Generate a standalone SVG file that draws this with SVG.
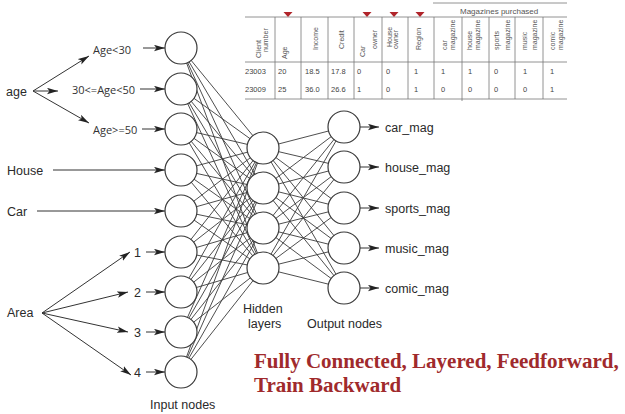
<svg xmlns="http://www.w3.org/2000/svg" width="625" height="414" viewBox="0 0 625 414">
<defs>
<marker id="ah" markerUnits="userSpaceOnUse" markerWidth="11" markerHeight="7" refX="11" refY="3.5" orient="auto">
<path d="M0,0.3 L11,3.5 L0,6.7 L2.5,3.5 z" fill="#222"/>
</marker>
<style>
.node{fill:#fff;stroke:#3a3a3a;stroke-width:1.2}
.conn line{stroke:#3a3a3a;stroke-width:0.9}
.arr{stroke:#333;stroke-width:1;fill:none;marker-end:url(#ah)}
.lbl{font-family:"Liberation Sans",Arial,sans-serif;font-size:12.5px;fill:#2a2a2a}
.age{font-family:"Open Sans","Liberation Sans",sans-serif;font-size:11px;fill:#333}
.th{font-family:"Liberation Sans",Arial,sans-serif;font-size:7px;fill:#555}
.td{font-family:"Liberation Sans",Arial,sans-serif;font-size:7.5px;fill:#444}
.tl{stroke:#777;stroke-width:0.8}
.tri{fill:#b0242a}
.title{font-family:"Liberation Serif","Times New Roman",serif;font-weight:bold;font-size:21px;fill:#a02a2c}
</style>
</defs>
<rect width="625" height="414" fill="#fff"/>

<!-- table -->
<g id="table">
<line class="tl" x1="433" y1="3" x2="567" y2="3"/>
<text class="th" x="460" y="14" style="font-size:8px">Magazines purchased</text>
<line class="tl" x1="245" y1="17" x2="567" y2="17"/>
<line class="tl" x1="245" y1="62" x2="567" y2="62"/>
<line class="tl" x1="245" y1="99" x2="567" y2="99"/>
<g class="tl">
<line x1="275" y1="17" x2="275" y2="99"/><line x1="301" y1="17" x2="301" y2="99"/>
<line x1="328" y1="17" x2="328" y2="99"/><line x1="354" y1="17" x2="354" y2="99"/>
<line x1="382" y1="17" x2="382" y2="99"/><line x1="408" y1="17" x2="408" y2="99"/>
<line x1="434" y1="17" x2="434" y2="99"/><line x1="462" y1="17" x2="462" y2="101"/>
<line x1="489" y1="17" x2="489" y2="99"/><line x1="515" y1="17" x2="515" y2="99"/>
<line x1="543" y1="17" x2="543" y2="99"/>
</g>
<polygon class="tri" points="283.5,12 292.5,12 288,17"/>
<polygon class="tri" points="362.5,12 371.5,12 367,17"/>
<polygon class="tri" points="389.5,12 398.5,12 394,17"/>
<polygon class="tri" points="415.5,12 424.5,12 420,17"/>
<g class="th">
<text transform="translate(261,58) rotate(-90)">Client</text>
<text transform="translate(268,52) rotate(-90)">number</text>
<text transform="translate(287,59) rotate(-90)">Age</text>
<text transform="translate(318,50) rotate(-90)">Income</text>
<text transform="translate(344,49) rotate(-90)">Credit</text>
<text transform="translate(365,57) rotate(-90)">Car</text>
<text transform="translate(377,49) rotate(-90)">owner</text>
<text transform="translate(392,47) rotate(-90)">House</text>
<text transform="translate(398,49) rotate(-90)">owner</text>
<text transform="translate(421,50) rotate(-90)">Region</text>
<text transform="translate(447,50) rotate(-90)">car</text>
<text transform="translate(455,50) rotate(-90)">magazine</text>
<text transform="translate(472,50) rotate(-90)">house</text>
<text transform="translate(480,50) rotate(-90)">magazine</text>
<text transform="translate(499,50) rotate(-90)">sports</text>
<text transform="translate(510,50) rotate(-90)">magazine</text>
<text transform="translate(527,50) rotate(-90)">music</text>
<text transform="translate(537,50) rotate(-90)">magazine</text>
<text transform="translate(555,50) rotate(-90)">comic</text>
<text transform="translate(563,50) rotate(-90)">magazine</text>
</g>
<g class="td">
<text x="245" y="74">23003</text><text x="278" y="74">20</text><text x="305" y="74">18.5</text><text x="331" y="74">17.8</text>
<text x="357" y="74">0</text><text x="386" y="74">0</text><text x="414" y="74">1</text><text x="441" y="74">1</text>
<text x="468" y="74">1</text><text x="494" y="74">0</text><text x="523" y="74">1</text><text x="550" y="74">1</text>
<text x="245" y="92">23009</text><text x="278" y="92">25</text><text x="305" y="92">36.0</text><text x="331" y="92">26.6</text>
<text x="357" y="92">1</text><text x="386" y="92">0</text><text x="414" y="92">1</text><text x="441" y="92">0</text>
<text x="468" y="92">0</text><text x="494" y="92">0</text><text x="523" y="92">0</text><text x="550" y="92">1</text>
</g>
</g>

<!-- connectors -->
<g id="connectors">
<g class="conn">
<line x1="181" y1="48" x2="263" y2="148"/><line x1="181" y1="48" x2="263" y2="188"/><line x1="181" y1="48" x2="263" y2="228"/><line x1="181" y1="48" x2="263" y2="268"/>
<line x1="181" y1="89" x2="263" y2="148"/><line x1="181" y1="89" x2="263" y2="188"/><line x1="181" y1="89" x2="263" y2="228"/><line x1="181" y1="89" x2="263" y2="268"/>
<line x1="181" y1="129" x2="263" y2="148"/><line x1="181" y1="129" x2="263" y2="188"/><line x1="181" y1="129" x2="263" y2="228"/><line x1="181" y1="129" x2="263" y2="268"/>
<line x1="181" y1="170" x2="263" y2="148"/><line x1="181" y1="170" x2="263" y2="188"/><line x1="181" y1="170" x2="263" y2="228"/><line x1="181" y1="170" x2="263" y2="268"/>
<line x1="181" y1="211" x2="263" y2="148"/><line x1="181" y1="211" x2="263" y2="188"/><line x1="181" y1="211" x2="263" y2="228"/><line x1="181" y1="211" x2="263" y2="268"/>
<line x1="181" y1="252" x2="263" y2="148"/><line x1="181" y1="252" x2="263" y2="188"/><line x1="181" y1="252" x2="263" y2="228"/><line x1="181" y1="252" x2="263" y2="268"/>
<line x1="181" y1="292" x2="263" y2="148"/><line x1="181" y1="292" x2="263" y2="188"/><line x1="181" y1="292" x2="263" y2="228"/><line x1="181" y1="292" x2="263" y2="268"/>
<line x1="181" y1="332" x2="263" y2="148"/><line x1="181" y1="332" x2="263" y2="188"/><line x1="181" y1="332" x2="263" y2="228"/><line x1="181" y1="332" x2="263" y2="268"/>
<line x1="181" y1="372" x2="263" y2="148"/><line x1="181" y1="372" x2="263" y2="188"/><line x1="181" y1="372" x2="263" y2="228"/><line x1="181" y1="372" x2="263" y2="268"/>
<line x1="263" y1="148" x2="344" y2="127"/><line x1="263" y1="148" x2="344" y2="167"/><line x1="263" y1="148" x2="344" y2="208"/><line x1="263" y1="148" x2="344" y2="248"/><line x1="263" y1="148" x2="344" y2="288"/>
<line x1="263" y1="188" x2="344" y2="127"/><line x1="263" y1="188" x2="344" y2="167"/><line x1="263" y1="188" x2="344" y2="208"/><line x1="263" y1="188" x2="344" y2="248"/><line x1="263" y1="188" x2="344" y2="288"/>
<line x1="263" y1="228" x2="344" y2="127"/><line x1="263" y1="228" x2="344" y2="167"/><line x1="263" y1="228" x2="344" y2="208"/><line x1="263" y1="228" x2="344" y2="248"/><line x1="263" y1="228" x2="344" y2="288"/>
<line x1="263" y1="268" x2="344" y2="127"/><line x1="263" y1="268" x2="344" y2="167"/><line x1="263" y1="268" x2="344" y2="208"/><line x1="263" y1="268" x2="344" y2="248"/><line x1="263" y1="268" x2="344" y2="288"/>
</g>
<!-- input arrows -->
<line class="arr" x1="33" y1="91" x2="89" y2="56"/>
<line class="arr" x1="33" y1="91" x2="58" y2="91"/>
<line class="arr" x1="33" y1="91" x2="89" y2="123"/>
<line class="arr" x1="143" y1="48" x2="165" y2="48"/>
<line class="arr" x1="140" y1="89" x2="165" y2="89"/>
<line class="arr" x1="142" y1="129" x2="165" y2="129"/>
<line class="arr" x1="53" y1="170" x2="165" y2="170"/>
<line class="arr" x1="37" y1="211" x2="165" y2="211"/>
<line class="arr" x1="42" y1="313" x2="130" y2="252"/>
<line class="arr" x1="42" y1="313" x2="128" y2="292"/>
<line class="arr" x1="42" y1="313" x2="128" y2="332"/>
<line class="arr" x1="42" y1="313" x2="131" y2="375"/>
<line class="arr" x1="146" y1="252" x2="165" y2="252"/>
<line class="arr" x1="146" y1="292" x2="165" y2="292"/>
<line class="arr" x1="146" y1="332" x2="165" y2="332"/>
<line class="arr" x1="146" y1="372" x2="165" y2="372"/>
<!-- output arrows -->
<line class="arr" x1="360" y1="127" x2="379" y2="127"/>
<line class="arr" x1="360" y1="167" x2="379" y2="167"/>
<line class="arr" x1="360" y1="208" x2="379" y2="208"/>
<line class="arr" x1="360" y1="248" x2="379" y2="248"/>
<line class="arr" x1="360" y1="288" x2="379" y2="288"/>
</g>

<!-- input labels -->
<g id="lbl-age"><text class="lbl" x="6" y="96">age</text></g>
<g id="lbl-age1"><text class="age" x="93" y="54">Age&lt;30</text></g>
<g id="lbl-age2"><text class="age" x="72" y="94">30&lt;=Age&lt;50</text></g>
<g id="lbl-age3"><text class="age" x="93" y="134">Age&gt;=50</text></g>
<g id="lbl-house"><text class="lbl" x="7" y="175">House</text></g>
<g id="lbl-car"><text class="lbl" x="7" y="216">Car</text></g>
<g id="lbl-area"><text class="lbl" x="7" y="317">Area</text></g>
<g id="lbl-1"><text class="lbl" x="134" y="256.5">1</text></g>
<g id="lbl-2"><text class="lbl" x="134" y="296.5">2</text></g>
<g id="lbl-3"><text class="lbl" x="134" y="336.5">3</text></g>
<g id="lbl-4"><text class="lbl" x="134" y="376.5">4</text></g>

<!-- input nodes -->
<g id="in1"><circle class="node" cx="181" cy="48" r="16"/></g>
<g id="in2"><circle class="node" cx="181" cy="89" r="16"/></g>
<g id="in3"><circle class="node" cx="181" cy="129" r="16"/></g>
<g id="in4"><circle class="node" cx="181" cy="170" r="16"/></g>
<g id="in5"><circle class="node" cx="181" cy="211" r="16"/></g>
<g id="in6"><circle class="node" cx="181" cy="252" r="16"/></g>
<g id="in7"><circle class="node" cx="181" cy="292" r="16"/></g>
<g id="in8"><circle class="node" cx="181" cy="332" r="16"/></g>
<g id="in9"><circle class="node" cx="181" cy="372" r="16"/></g>

<!-- hidden nodes -->
<g id="h1"><circle class="node" cx="263" cy="148" r="16"/></g>
<g id="h2"><circle class="node" cx="263" cy="188" r="16"/></g>
<g id="h3"><circle class="node" cx="263" cy="228" r="16"/></g>
<g id="h4"><circle class="node" cx="263" cy="268" r="16"/></g>

<!-- output nodes -->
<g id="o1"><circle class="node" cx="344" cy="127" r="16"/><text class="lbl" x="385" y="131.5">car_mag</text></g>
<g id="o2"><circle class="node" cx="344" cy="167" r="16"/><text class="lbl" x="385" y="171.5">house_mag</text></g>
<g id="o3"><circle class="node" cx="344" cy="208" r="16"/><text class="lbl" x="385" y="212.5">sports_mag</text></g>
<g id="o4"><circle class="node" cx="344" cy="248" r="16"/><text class="lbl" x="385" y="252.5">music_mag</text></g>
<g id="o5"><circle class="node" cx="344" cy="288" r="16"/><text class="lbl" x="385" y="292.5">comic_mag</text></g>

<!-- layer captions -->
<g id="cap-input"><text class="lbl" x="150" y="409">Input nodes</text></g>
<g id="cap-hidden"><text class="lbl" x="243" y="313">Hidden</text><text class="lbl" x="248" y="328">layers</text></g>
<g id="cap-output"><text class="lbl" x="307" y="328">Output nodes</text></g>

<g id="title">
<text class="title" x="254" y="368">Fully Connected, Layered, Feedforward,</text>
<text class="title" x="254" y="392">Train Backward</text>
</g>
</svg>
